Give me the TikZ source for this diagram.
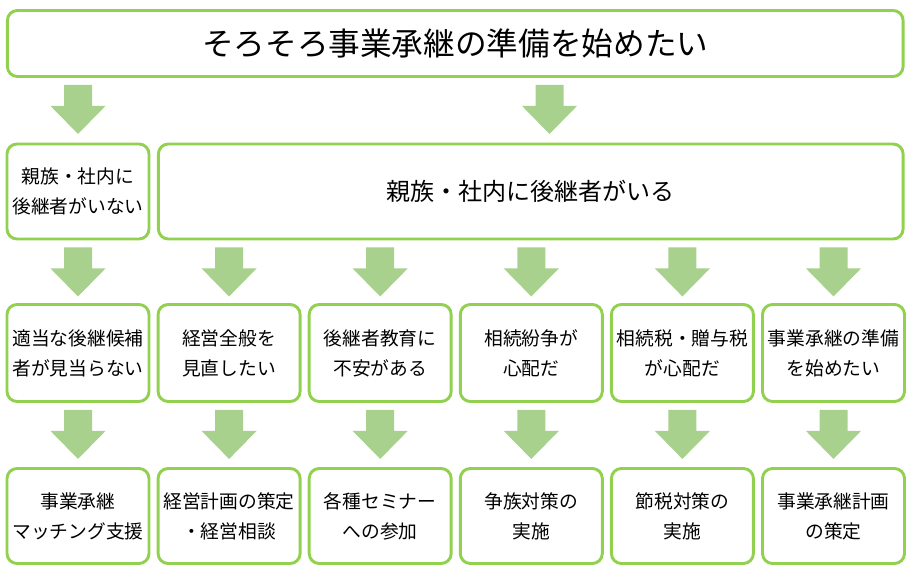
\documentclass[tikz,border=0pt]{standalone}
\usepackage{fontspec}
\setmainfont{Noto Sans CJK JP}
\usetikzlibrary{calc}

\definecolor{boxgreen}{RGB}{146,208,80}
\definecolor{arrowgreen}{RGB}{169,209,142}

\tikzset{
  stepbox/.style={draw=boxgreen, line width=2.5pt, rounded corners=0.3cm, fill=white,
    inner sep=0pt, align=center, minimum width=4.26cm, font=\fontsize{16}{25.5}\selectfont},
}

% block arrow below node #2, starting under node #3 (optional shift #1)
\newcommand{\flowarrow}[3][0]{%
  \fill[arrowgreen] ($(#2.south -| #3.north)+(#1,0)+(-14,7)$) -- ++(28,0) -- ++(0,21)
    -- ++(13.5,0) -- ++(-27.5,28) -- ++(-27.5,-28) -- ++(13.5,0) -- cycle;}

\begin{document}
\begin{tikzpicture}[x=0.03cm, y=-0.03cm]
  \useasboundingbox (0,0) rectangle (910,572);

  %top box
  \node[stepbox, minimum width=26.87cm, minimum height=1.98cm, font=\fontsize{27}{32}\selectfont]
    (top) at (455.25,43.5) {そろそろ事業承継の準備を始めたい};

  %second row
  \node[stepbox, minimum height=2.85cm] (r2a) at (78,191.5) {親族・社内に\\後継者がいない};
  \node[stepbox, minimum width=22.34cm, minimum height=2.85cm, font=\fontsize{20.5}{24}\selectfont]
    (r2b) at (530.75,191.5) {親族・社内に後継者がいる};

  %third row
  \foreach \i/\txt in {1/{適当な後継候補\\者が見当らない}, 2/{経営全般を\\見直したい},
                       3/{後継者教育に\\不安がある}, 4/{相続紛争が\\心配だ},
                       5/{相続税・贈与税\\が心配だ}, 6/{事業承継の準備\\を始めたい}}
    \node[stepbox, minimum height=2.91cm] (r3\i) at ({78+151.1*(\i-1)},353) {\txt};

  %fourth row
  \foreach \i/\txt in {1/{事業承継\\マッチング支援}, 2/{経営計画の策定\\・経営相談},
                       3/{各種セミナー\\への参加}, 4/{争族対策の\\実施},
                       5/{節税対策の\\実施}, 6/{事業承継計画\\の策定}}
    \node[stepbox, minimum height=2.85cm] (r4\i) at ({78+151.1*(\i-1)},516) {\txt};

  %arrows
  \flowarrow{top}{r2a}
  \flowarrow[18.75]{top}{r2b}
  \flowarrow{r2a}{r31}
  \foreach \i in {2,...,6} \flowarrow{r2b}{r3\i};
  \foreach \i in {1,...,6} \flowarrow{r3\i}{r4\i};
\end{tikzpicture}
\end{document}
